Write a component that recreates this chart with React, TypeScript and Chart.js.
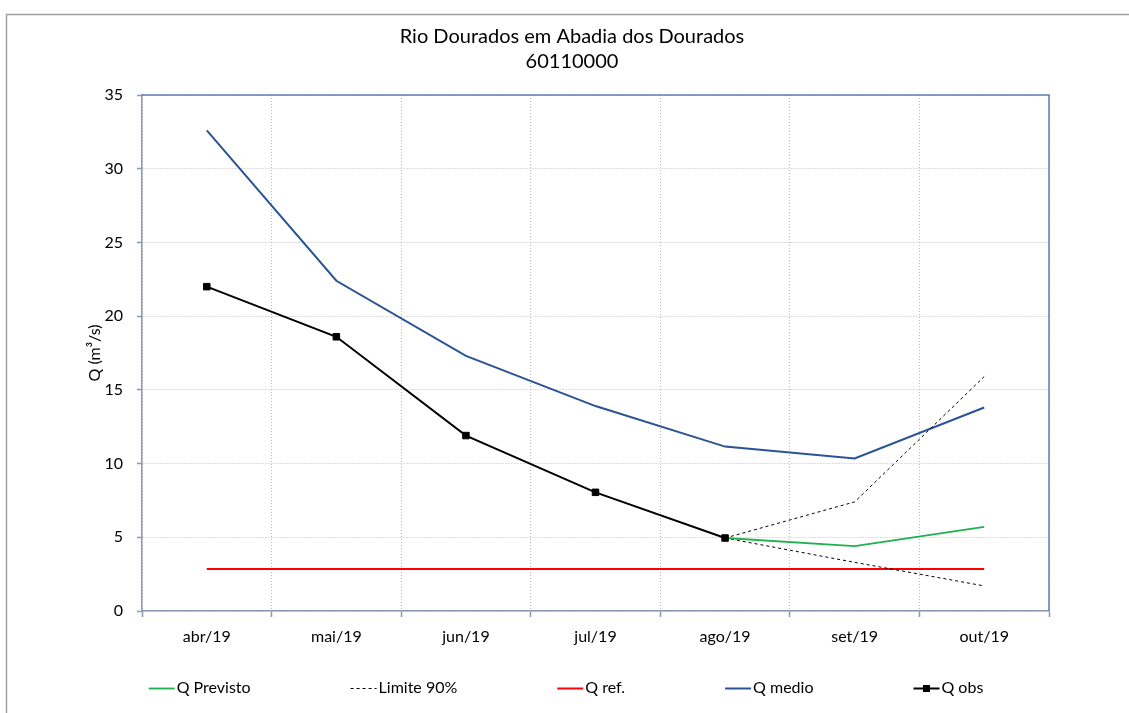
import React, { useEffect, useRef } from 'react';
import { Chart, registerables } from 'chart.js';

Chart.register(...registerables);

// ---- data ----
const categories = ['abr/19', 'mai/19', 'jun/19', 'jul/19', 'ago/19', 'set/19', 'out/19'];
const qPrevisto = [null, null, null, null, 4.95, 4.4, 5.7];
const limiteSup = [null, null, null, null, 4.95, 7.4, 15.9];
const limiteInf = [null, null, null, null, 4.95, 3.3, 1.7];
const qRef = [2.85, 2.85, 2.85, 2.85, 2.85, 2.85, 2.85];
const qMedio = [32.6, 22.4, 17.3, 13.9, 11.15, 10.35, 13.8];
const qObs = [22.0, 18.6, 11.9, 8.05, 4.95, null, null];

const titleLines = ['Rio Dourados em Abadia dos Dourados', '60110000'];
const yAxisTitle = 'Q (m³/s)';
const yMin = 0;
const yMax = 35;
const yStep = 5;

// ---- styles ----
const FONT = 'Lato, "Open Sans", sans-serif';
const GREEN = '#1fb050';
const RED = '#ff0000';
const BLUE = '#2a5394';
const BLACK = '#000000';
const AXIS = '#8a9ab0';
const GRID = '#b8b8b8';
const PLOT_BORDER = '#5a7fb0';

const framePlugin = {
  id: 'frameAndTitle',
  beforeDraw(chart: any) {
    const ctx = chart.ctx;
    ctx.save();
    ctx.fillStyle = '#ffffff';
    ctx.fillRect(0, 0, chart.width, chart.height);
    ctx.strokeStyle = '#a0a0a0';
    ctx.lineWidth = 1.5;
    ctx.strokeRect(6.5, 14.5, chart.width + 20, chart.height + 20);
    ctx.fillStyle = '#000';
    ctx.font = `20px ${FONT}`;
    ctx.textAlign = 'center';
    ctx.textBaseline = 'middle';
    titleLines.forEach((t, i) => ctx.fillText(t, 572, 37 + i * 25));
    ctx.restore();
  },
};

const plotBorderPlugin = {
  id: 'plotBorder',
  beforeDatasetsDraw(chart: any) {
    const { ctx, chartArea } = chart;
    ctx.save();
    ctx.strokeStyle = PLOT_BORDER;
    ctx.lineWidth = 1.5;
    ctx.beginPath();
    ctx.moveTo(chartArea.left, chartArea.top);
    ctx.lineTo(chartArea.right, chartArea.top);
    ctx.lineTo(chartArea.right, chartArea.bottom);
    ctx.stroke();
    ctx.restore();
  },
};

const legendPlugin = {
  id: 'customLegend',
  afterDraw(chart: any) {
    const ctx = chart.ctx;
    const seen = new Set<string>();
    const items: any[] = [];
    chart.data.datasets.forEach((ds: any) => {
      if (seen.has(ds.label)) return;
      seen.add(ds.label);
      items.push(ds);
    });
    items.sort((a, b) => a.legendIndex - b.legendIndex);
    ctx.save();
    ctx.font = `16px ${FONT}`;
    const sample = 26;
    const gapText = 2;
    const gapItem = 100;
    const widths = items.map((it) => sample + gapText + ctx.measureText(it.label).width);
    const total = widths.reduce((a, b) => a + b, 0) + gapItem * (items.length - 1);
    let x = 566 - total / 2;
    const y = 688;
    items.forEach((it, i) => {
      ctx.strokeStyle = it.borderColor;
      ctx.lineWidth = it.borderWidth;
      ctx.setLineDash(it.borderDash || []);
      ctx.beginPath();
      ctx.moveTo(x, y + 0.5);
      ctx.lineTo(x + sample, y + 0.5);
      ctx.stroke();
      ctx.setLineDash([]);
      if (it.pointRadius > 0) {
        ctx.fillStyle = it.borderColor;
        ctx.fillRect(x + sample / 2 - 3.5, y - 3, 7, 7);
      }
      ctx.fillStyle = '#000';
      ctx.textAlign = 'left';
      ctx.textBaseline = 'middle';
      ctx.fillText(it.label, x + sample + gapText, y);
      x += widths[i] + gapItem;
    });
    ctx.restore();
  },
};

export default function App() {
  const ref = useRef<HTMLCanvasElement | null>(null);

  useEffect(() => {
    document.body.style.margin = '0';
    const canvas = ref.current!;
    const lineBase = { pointRadius: 0, pointHoverRadius: 0, tension: 0, fill: false, spanGaps: false };
    const chart = new Chart(canvas, {
      type: 'line',
      data: {
        labels: categories,
        datasets: [
          { ...lineBase, label: 'Q obs', legendIndex: 4, data: qObs, borderColor: BLACK, backgroundColor: BLACK, borderWidth: 2,
            pointRadius: 4.6, pointStyle: 'rect', pointBorderWidth: 1, pointBackgroundColor: BLACK, pointBorderColor: BLACK, order: 0 } as any,
          { ...lineBase, label: 'Q Previsto', legendIndex: 0, data: qPrevisto, borderColor: GREEN, borderWidth: 1.8, order: 1 } as any,
          { ...lineBase, label: 'Limite 90%', legendIndex: 1, data: limiteSup, borderColor: BLACK, borderWidth: 1, borderDash: [3, 3], order: 2 } as any,
          { ...lineBase, label: 'Limite 90%', legendIndex: 1, data: limiteInf, borderColor: BLACK, borderWidth: 1, borderDash: [3, 3], order: 2 } as any,
          { ...lineBase, label: 'Q ref.', legendIndex: 2, data: qRef, borderColor: RED, borderWidth: 2, order: 3 } as any,
          { ...lineBase, label: 'Q medio', legendIndex: 3, data: qMedio, borderColor: BLUE, borderWidth: 2, order: 4 } as any,
        ],
      },
      options: {
        responsive: false,
        animation: false,
        events: [],
        layout: { padding: { top: 95, right: 80, left: 0, bottom: 0 } },
        plugins: {
          legend: { display: false },
          title: { display: false },
          tooltip: { enabled: false },
        },
        scales: {
          x: {
            offset: true,
            grid: { offset: true, color: GRID, lineWidth: 1, drawTicks: true, tickLength: 6, tickColor: AXIS, tickWidth: 1.5 },
            border: { color: AXIS, width: 1.5, dash: [1, 2] },
            ticks: { color: '#000', font: { family: FONT, size: 16 }, padding: 10, maxRotation: 0, autoSkip: false },
            afterFit: (s: any) => { s.height = 102; },
          },
          y: {
            min: yMin,
            max: yMax,
            grid: { color: GRID, lineWidth: 1, drawTicks: true, tickLength: 5, tickColor: AXIS, tickWidth: 1.5 },
            border: { color: AXIS, width: 1.5, dash: [1, 2] },
            ticks: { stepSize: yStep, color: '#000', font: { family: FONT, size: 16 }, padding: 14 },
            title: { display: true, text: yAxisTitle, color: '#000', font: { family: FONT, size: 16 }, padding: { top: 85, bottom: 0 } },
            afterFit: (s: any) => { s.width = 142; },
          },
        },
      } as any,
      plugins: [framePlugin, plotBorderPlugin, legendPlugin],
    });
    return () => chart.destroy();
  }, []);

  return (
    <div style={{ position: 'absolute', left: 0, top: 0, width: 1129, height: 713 }}>
      <canvas ref={ref} width={1129} height={713} style={{ display: 'block' }} />
    </div>
  );
}
